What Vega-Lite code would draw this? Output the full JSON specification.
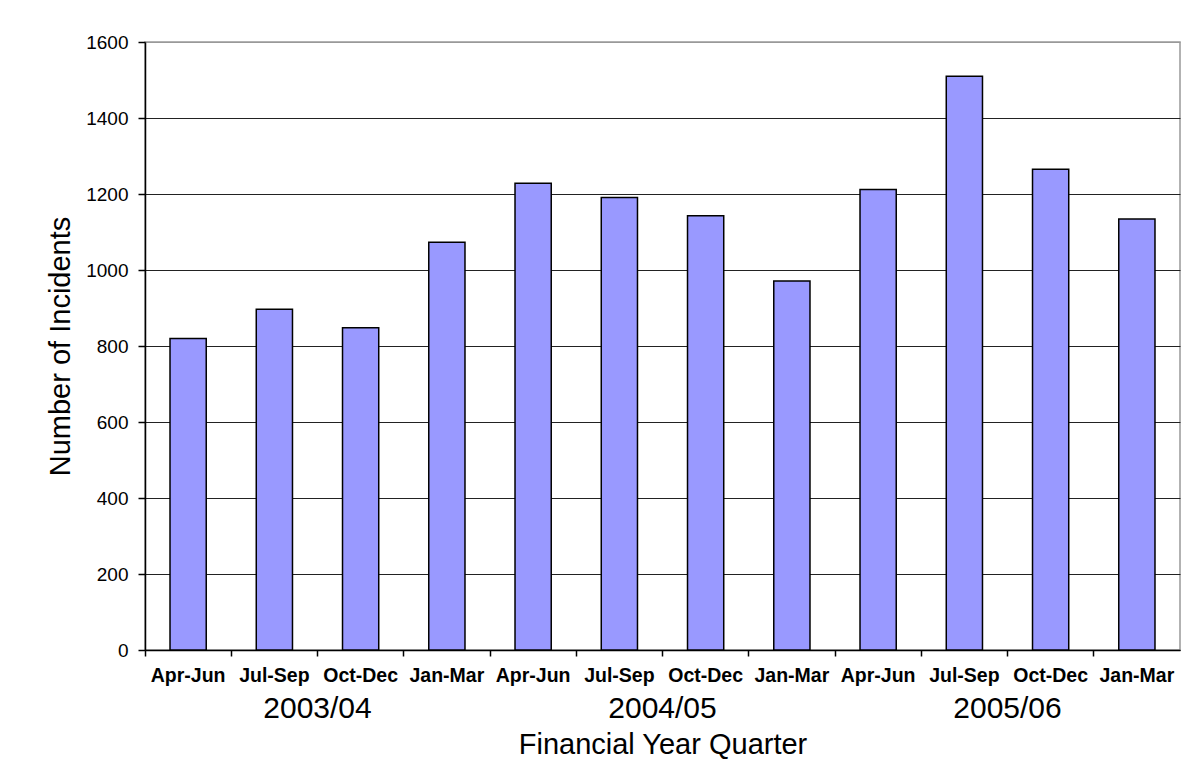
{
  "$schema": "https://vega.github.io/schema/vega-lite/v6.json",
  "width": 1035,
  "height": 608,
  "autosize": {"type": "none"},
  "padding": {"left": 145, "top": 42, "right": 8, "bottom": 113},
  "background": "white",
  "config": {
    "font": "Liberation Sans",
    "view": {"stroke": "#999999", "strokeWidth": 1.5}
  },
  "data": {
    "values": [
      {"period": "2003/04 Apr-Jun", "year": "2003/04", "incidents": 820},
      {"period": "2003/04 Jul-Sep", "year": "2003/04", "incidents": 897},
      {"period": "2003/04 Oct-Dec", "year": "2003/04", "incidents": 848},
      {"period": "2003/04 Jan-Mar", "year": "2003/04", "incidents": 1073},
      {"period": "2004/05 Apr-Jun", "year": "2004/05", "incidents": 1228},
      {"period": "2004/05 Jul-Sep", "year": "2004/05", "incidents": 1191},
      {"period": "2004/05 Oct-Dec", "year": "2004/05", "incidents": 1143},
      {"period": "2004/05 Jan-Mar", "year": "2004/05", "incidents": 971},
      {"period": "2005/06 Apr-Jun", "year": "2005/06", "incidents": 1212},
      {"period": "2005/06 Jul-Sep", "year": "2005/06", "incidents": 1510},
      {"period": "2005/06 Oct-Dec", "year": "2005/06", "incidents": 1265},
      {"period": "2005/06 Jan-Mar", "year": "2005/06", "incidents": 1134}
    ]
  },
  "layer": [
    {
      "mark": {"type": "bar", "fill": "#9999FF", "stroke": "black", "strokeWidth": 1.5, "width": {"band": 0.42}},
      "encoding": {
        "x": {
          "field": "period", "type": "nominal", "sort": null,
          "scale": {"paddingInner": 0, "paddingOuter": 0},
          "axis": {
            "title": null,
            "labelAngle": 0,
            "labelExpr": "split(datum.value, ' ')[1]",
            "labelFont": "Liberation Sans",
            "labelFontSize": 19.5,
            "labelFontWeight": "bold",
            "labelColor": "black",
            "labelPadding": 10,
            "ticks": true,
            "bandPosition": 0,
            "tickSize": 6,
            "tickWidth": 1.5,
            "tickColor": "black",
            "domainColor": "black",
            "domainWidth": 1.5,
            "grid": false
          }
        },
        "y": {
          "field": "incidents", "type": "quantitative",
          "scale": {"domain": [0, 1600], "nice": false},
          "axis": {
            "title": "Number of Incidents",
            "titleFontSize": 29,
            "titleFontWeight": "normal",
            "titleColor": "black",
            "titlePadding": 10,
            "values": [0, 200, 400, 600, 800, 1000, 1200, 1400, 1600],
            "format": "d",
            "labelFontSize": 19,
            "labelColor": "black",
            "labelPadding": 10,
            "ticks": true,
            "tickSize": 7,
            "tickWidth": 1.5,
            "tickColor": "black",
            "domainColor": "black",
            "domainWidth": 1.5,
            "grid": true,
            "gridColor": {"condition": {"test": "datum.value == 1600", "value": "#999999"}, "value": "#222222"},
            "gridWidth": 1.2
          }
        }
      }
    },
    {
      "mark": {"type": "rule", "opacity": 0},
      "encoding": {
        "x": {
          "field": "year", "type": "nominal", "sort": null,
          "scale": {"paddingInner": 0, "paddingOuter": 0},
          "axis": {
            "orient": "bottom",
            "title": "Financial Year Quarter",
            "titleFontSize": 29,
            "titleFontWeight": "normal",
            "titleColor": "black",
            "titlePadding": 7,
            "labelAngle": 0,
            "labelFontSize": 30,
            "labelColor": "black",
            "labelPadding": 43,
            "ticks": false,
            "domain": false,
            "grid": false
          }
        }
      }
    }
  ],
  "resolve": {"scale": {"x": "independent"}, "axis": {"x": "independent"}}
}
